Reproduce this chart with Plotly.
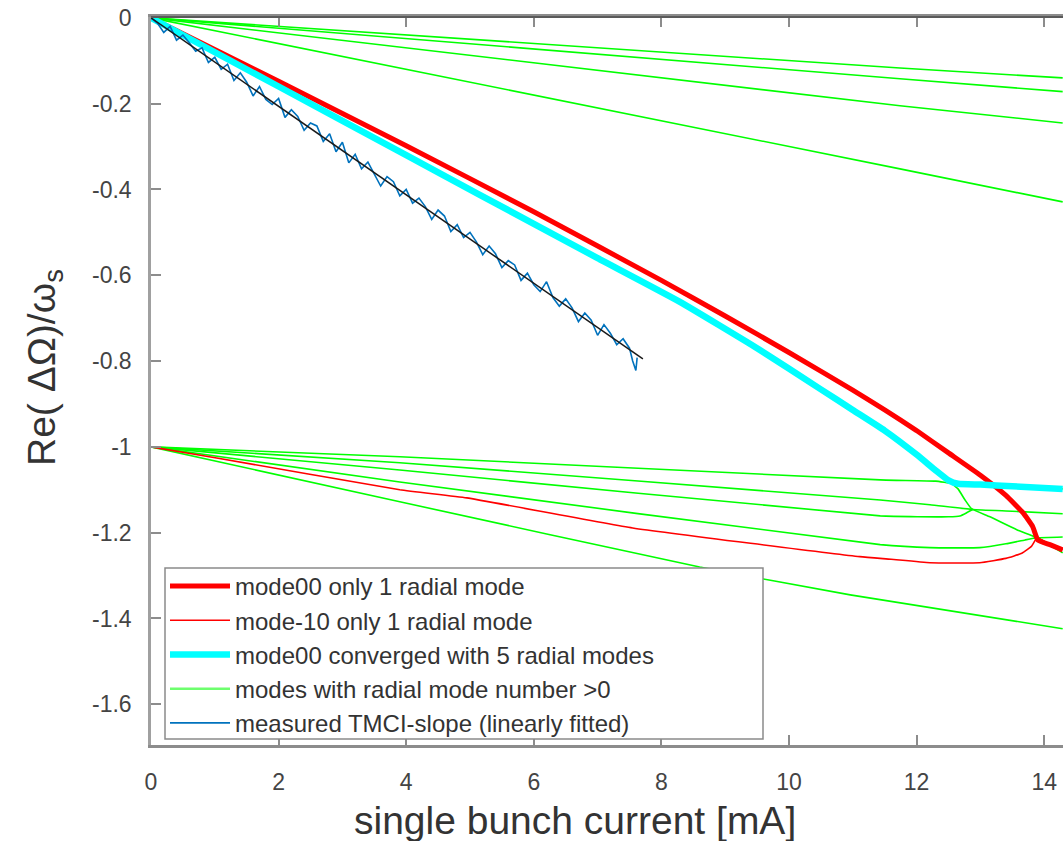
import plotly.graph_objects as go

# ---------------- data ----------------
red00_x = [0, 2, 4, 6, 8, 9, 10, 11, 11.5, 12, 12.5, 13, 13.4, 13.67, 13.82, 13.90, 14.09, 14.29]
red00_y = [0, -0.148, -0.298, -0.452, -0.612, -0.695, -0.780, -0.868, -0.914, -0.962, -1.014, -1.066, -1.113, -1.154, -1.186, -1.217, -1.228, -1.240]

red10_x = [0, 1.03, 3.9, 4.95, 7.55, 11.11, 11.6, 12.21, 12.99, 13.4, 13.65, 13.8, 13.89, 14.09, 14.29]
red10_y = [-1, -1.026, -1.100, -1.119, -1.189, -1.256, -1.262, -1.270, -1.270, -1.260, -1.248, -1.232, -1.212, -1.228, -1.240]

cyan_x = [0, 2, 4, 5.16, 7, 8.29, 9.5, 10.5, 11.0, 11.5, 12.0, 12.3, 12.5, 12.65, 13.0, 13.5, 14.29]
cyan_y = [0, -0.160, -0.320, -0.413, -0.560, -0.662, -0.770, -0.866, -0.914, -0.962, -1.018, -1.055, -1.078, -1.086, -1.088, -1.092, -1.098]

# upper green family (start at 0)
gt_x = [0, 11.74, 14.29]
gt1_y = [0, -0.117, -0.140]
gt2_y = [0, -0.142, -0.172]
gt3_y = [0, -0.205, -0.245]
gt4_y = [0, -0.352, -0.429]

# lower green family (start at -1)
g1_x = [0, 3.9, 11.43, 12.3, 12.55, 13.5, 14.29]
g1_y = [-1, -1.023, -1.077, -1.080, -1.085, -1.092, -1.098]
gd_x = [12.55, 12.65, 12.76, 12.86, 13.15, 13.57, 13.89, 14.29]
gd_y = [-1.085, -1.098, -1.124, -1.144, -1.163, -1.193, -1.212, -1.247]
g2_x = [0, 3.9, 11.43, 12.21, 12.88, 13.5, 14.29]
g2_y = [-1, -1.037, -1.124, -1.135, -1.146, -1.150, -1.156]
g3_x = [0, 3.9, 11.43, 12.5, 12.68, 12.78, 12.88]
g3_y = [-1, -1.054, -1.161, -1.163, -1.161, -1.154, -1.146]
g4_x = [0, 3.9, 11.43, 12.21, 12.99, 13.4, 13.7, 13.89, 14.29]
g4_y = [-1, -1.082, -1.228, -1.235, -1.235, -1.226, -1.217, -1.212, -1.210]
g5_x = [0, 3.9, 8.6, 10.96, 14.29]
g5_y = [-1, -1.128, -1.280, -1.345, -1.424]

meas_x = [0.0, 0.1, 0.2, 0.3, 0.4, 0.5, 0.6, 0.7, 0.8, 0.9, 1.0, 1.1, 1.2, 1.3, 1.4, 1.5, 1.6, 1.7, 1.8, 1.9,
          2.0, 2.1, 2.2, 2.3, 2.4, 2.5, 2.6, 2.7, 2.8, 2.9, 3.0, 3.1, 3.2, 3.3, 3.4, 3.5, 3.6, 3.7, 3.8, 3.9,
          4.0, 4.1, 4.2, 4.3, 4.4, 4.5, 4.6, 4.7, 4.8, 4.9, 5.0, 5.1, 5.2, 5.3, 5.4, 5.5, 5.6, 5.7, 5.8, 5.9,
          6.0, 6.1, 6.2, 6.3, 6.4, 6.5, 6.6, 6.7, 6.8, 6.9, 7.0, 7.1, 7.2, 7.3, 7.4, 7.5, 7.55, 7.6, 7.62]
meas_y = [0.000, -0.012, -0.034, -0.020, -0.052, -0.040, -0.058, -0.078, -0.070, -0.104,
          -0.092, -0.120, -0.108, -0.146, -0.128, -0.150, -0.182, -0.160, -0.190, -0.202,
          -0.188, -0.232, -0.214, -0.230, -0.262, -0.245, -0.252, -0.288, -0.270, -0.312,
          -0.290, -0.338, -0.318, -0.352, -0.336, -0.365, -0.392, -0.370, -0.382, -0.415,
          -0.400, -0.432, -0.420, -0.440, -0.470, -0.448, -0.462, -0.498, -0.482, -0.512,
          -0.500, -0.522, -0.552, -0.532, -0.550, -0.582, -0.566, -0.576, -0.612, -0.595,
          -0.622, -0.638, -0.615, -0.652, -0.672, -0.655, -0.676, -0.708, -0.688, -0.705,
          -0.740, -0.715, -0.735, -0.762, -0.748, -0.770, -0.800, -0.822, -0.792]

fit_x = [0, 7.71]
fit_y = [0, -0.795]

x_ticks = [0, 2, 4, 6, 8, 10, 12, 14]
x_labels = ["0", "2", "4", "6", "8", "10", "12", "14"]
y_ticks = [0, -0.2, -0.4, -0.6, -0.8, -1, -1.2, -1.4, -1.6]
y_labels = ["0", "-0.2", "-0.4", "-0.6", "-0.8", "-1", "-1.2", "-1.4", "-1.6"]

# ---------------- figure ----------------
GREEN = "rgb(0,255,0)"
fig = go.Figure()

greens = [(gt_x, gt1_y), (gt_x, gt2_y), (gt_x, gt3_y), (gt_x, gt4_y),
          (g1_x, g1_y), (gd_x, gd_y), (g2_x, g2_y), (g3_x, g3_y), (g4_x, g4_y), (g5_x, g5_y)]
for gx, gy in greens:
    fig.add_trace(go.Scatter(x=gx, y=gy, mode="lines", line=dict(color=GREEN, width=1.6, shape="spline", smoothing=0.4),
                             showlegend=False, hoverinfo="skip"))

fig.add_trace(go.Scatter(x=red10_x, y=red10_y, mode="lines",
                         line=dict(color="rgb(255,0,0)", width=1.6, shape="spline", smoothing=0.4),
                         name="mode-10 only 1 radial mode", legendrank=2))
fig.add_trace(go.Scatter(x=red00_x, y=red00_y, mode="lines",
                         line=dict(color="rgb(255,0,0)", width=5, shape="spline", smoothing=0.4),
                         name="mode00 only 1 radial mode", legendrank=1))
fig.add_trace(go.Scatter(x=cyan_x, y=cyan_y, mode="lines",
                         line=dict(color="rgb(0,255,255)", width=6.5, shape="spline", smoothing=0.4),
                         name="mode00 converged with 5 radial modes", legendrank=3))
# legend-only green entry
fig.add_trace(go.Scatter(x=[0], y=[5], mode="lines", line=dict(color="rgb(110,255,110)", width=2.5),
                         name="modes with radial mode number >0", legendrank=4))
fig.add_trace(go.Scatter(x=meas_x, y=meas_y, mode="lines", line=dict(color="#0072BD", width=1.6),
                         name="measured TMCI-slope (linearly fitted)", legendrank=5))
fig.add_trace(go.Scatter(x=fit_x, y=fit_y, mode="lines", line=dict(color="#1a1a1a", width=1.5),
                         showlegend=False))

PW, PH = 912, 728
fig.update_layout(
    width=1063, height=841,
    margin=dict(l=151, r=0, t=17, b=96),
    paper_bgcolor="white", plot_bgcolor="white",
    font=dict(family="Liberation Sans, Arial, sans-serif", color="#333333"),
    showlegend=True,
    legend=dict(x=(165 - 151) / PW, y=(745 - 564) / PH, xanchor="left", yanchor="top",
                bgcolor="rgba(0,0,0,0)", borderwidth=0,
                font=dict(size=24, color="#333333"), traceorder="normal",
                itemwidth=60, tracegroupgap=0),
)
fig.update_xaxes(range=[0, 14.295], showgrid=False, zeroline=False,
                 showline=True, linecolor="#8c8c8c", linewidth=2.5, mirror="ticks",
                 ticks="inside", ticklen=10, tickwidth=2, tickcolor="#8c8c8c",
                 tickvals=x_ticks, ticktext=x_labels, tickfont=dict(size=23, color="#444"),
                 ticklabelstandoff=15)
fig.update_yaxes(range=[-1.695, 0.002], showgrid=False, zeroline=False,
                 showline=True, linecolor="#a0a0a0", linewidth=2.5, mirror=False,
                 ticks="inside", ticklen=10, tickwidth=2, tickcolor="#8c8c8c",
                 tickvals=y_ticks, ticktext=y_labels, tickfont=dict(size=23, color="#444"),
                 ticklabelstandoff=12)

# legend frame (white box covering curves, legend text drawn on top)
fig.add_shape(type="rect", xref="paper", yref="paper", layer="above",
              x0=(165 - 151) / PW, x1=(763 - 151) / PW, y0=(745 - 739) / PH, y1=(745 - 568) / PH,
              fillcolor="white", line=dict(color="#8a8a8a", width=1.5))
fig.add_shape(type="line", xref="paper", yref="paper", x0=0, x1=1, y0=1, y1=1,
              line=dict(color="#5a5a5a", width=2))

fig.add_annotation(text="single bunch current [mA]", xref="paper", yref="paper",
                   x=(575 - 151) / PW, y=(745 - 820) / PH, xanchor="center", yanchor="middle",
                   showarrow=False, font=dict(size=39, color="#333333"))
fig.add_annotation(text="Re( ΔΩ)/ω<sub>s</sub>", xref="paper", yref="paper",
                   x=(45 - 151) / PW, y=(745 - 368) / PH, xanchor="center", yanchor="middle",
                   textangle=-90, showarrow=False, font=dict(size=39, color="#333333"))

fig.write_html("out.html")
